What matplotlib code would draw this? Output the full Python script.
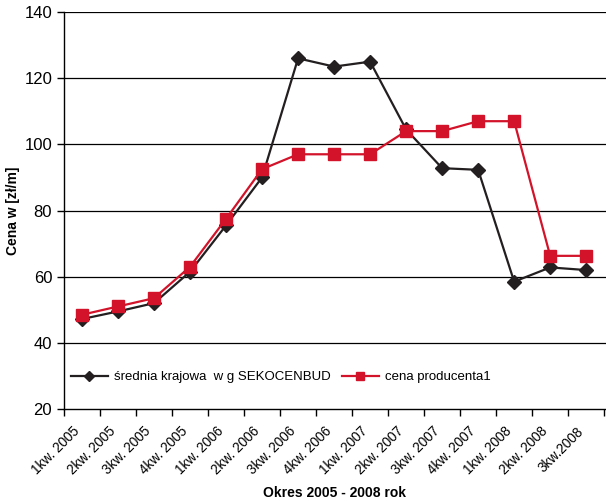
import matplotlib
matplotlib.use("Agg")
import matplotlib.pyplot as plt
import matplotlib.transforms as mtransforms
import numpy as np

categories = ["1kw. 2005", "2kw. 2005", "3kw. 2005", "4kw. 2005", "1kw. 2006", "2kw. 2006",
              "3kw. 2006", "4kw. 2006", "1kw. 2007", "2kw. 2007", "3kw. 2007", "4kw. 2007",
              "1kw. 2008", "2kw. 2008", "3kw.2008"]
srednia = [47.2, 49.5, 52.0, 61.5, 75.5, 90.0, 126.0, 123.5, 125.0, 104.5, 92.8, 92.3, 58.5, 62.8, 62.0]
producent = [48.5, 51.0, 53.5, 63.0, 77.5, 92.5, 97.0, 97.0, 97.0, 104.0, 104.0, 107.0, 107.0, 66.3, 66.3]
yticks = [20, 40, 60, 80, 100, 120, 140]

plt.rcParams['font.family'] = ['Liberation Sans', 'DejaVu Sans']

fig = plt.figure(figsize=(6.06, 5.01), dpi=100)
ax = fig.add_axes([0.1056, 0.1836, 0.8944, 0.7924])

x = np.arange(len(categories))
ax.plot(x, srednia, color='#231f20', lw=1.6, marker='D', ms=7, label='średnia krajowa  w g SEKOCENBUD', zorder=3)
ax.plot(x, producent, color='#d2132a', lw=1.6, marker='s', ms=8.5, label='cena producenta1', zorder=3)

ax.set_xlim(-0.5, len(categories) - 0.45)
ax.set_ylim(20, 140)
ax.set_yticks(yticks)
ax.tick_params(axis='y', labelsize=12, length=5, direction='out', width=1)
for yv in yticks[1:]:
    ax.axhline(yv, color='black', lw=0.9, zorder=1)

ax.set_xticks(x)
ax.set_xticklabels(categories, rotation=45, ha='right', rotation_mode='anchor', fontsize=9.8)
ax.tick_params(axis='x', which='major', length=0, pad=11)
offset = mtransforms.ScaledTranslation(-10 / 100, 0, fig.dpi_scale_trans)
for lab in ax.get_xticklabels():
    lab.set_transform(lab.get_transform() + offset)
ax.set_xticks(np.arange(-0.5, len(categories), 1.0), minor=True)
ax.tick_params(axis='x', which='minor', length=5, width=1, direction='out')

for s in ['top', 'right']:
    ax.spines[s].set_visible(False)
ax.spines['left'].set_linewidth(1)
ax.spines['bottom'].set_linewidth(1)

ax.set_ylabel('Cena w [zł/m]', fontsize=10, fontweight='bold', labelpad=3)
ax.set_xlabel('Okres 2005 - 2008 rok', fontsize=10, fontweight='bold', labelpad=6)

leg = ax.legend(loc='center left', bbox_to_anchor=(0.003, 0.08), borderaxespad=0, ncol=2, frameon=False,
                fontsize=9.5, handlelength=2.8, columnspacing=0.8, handletextpad=0.5, markerscale=0.75)

fig.savefig('out.png', dpi=100)
